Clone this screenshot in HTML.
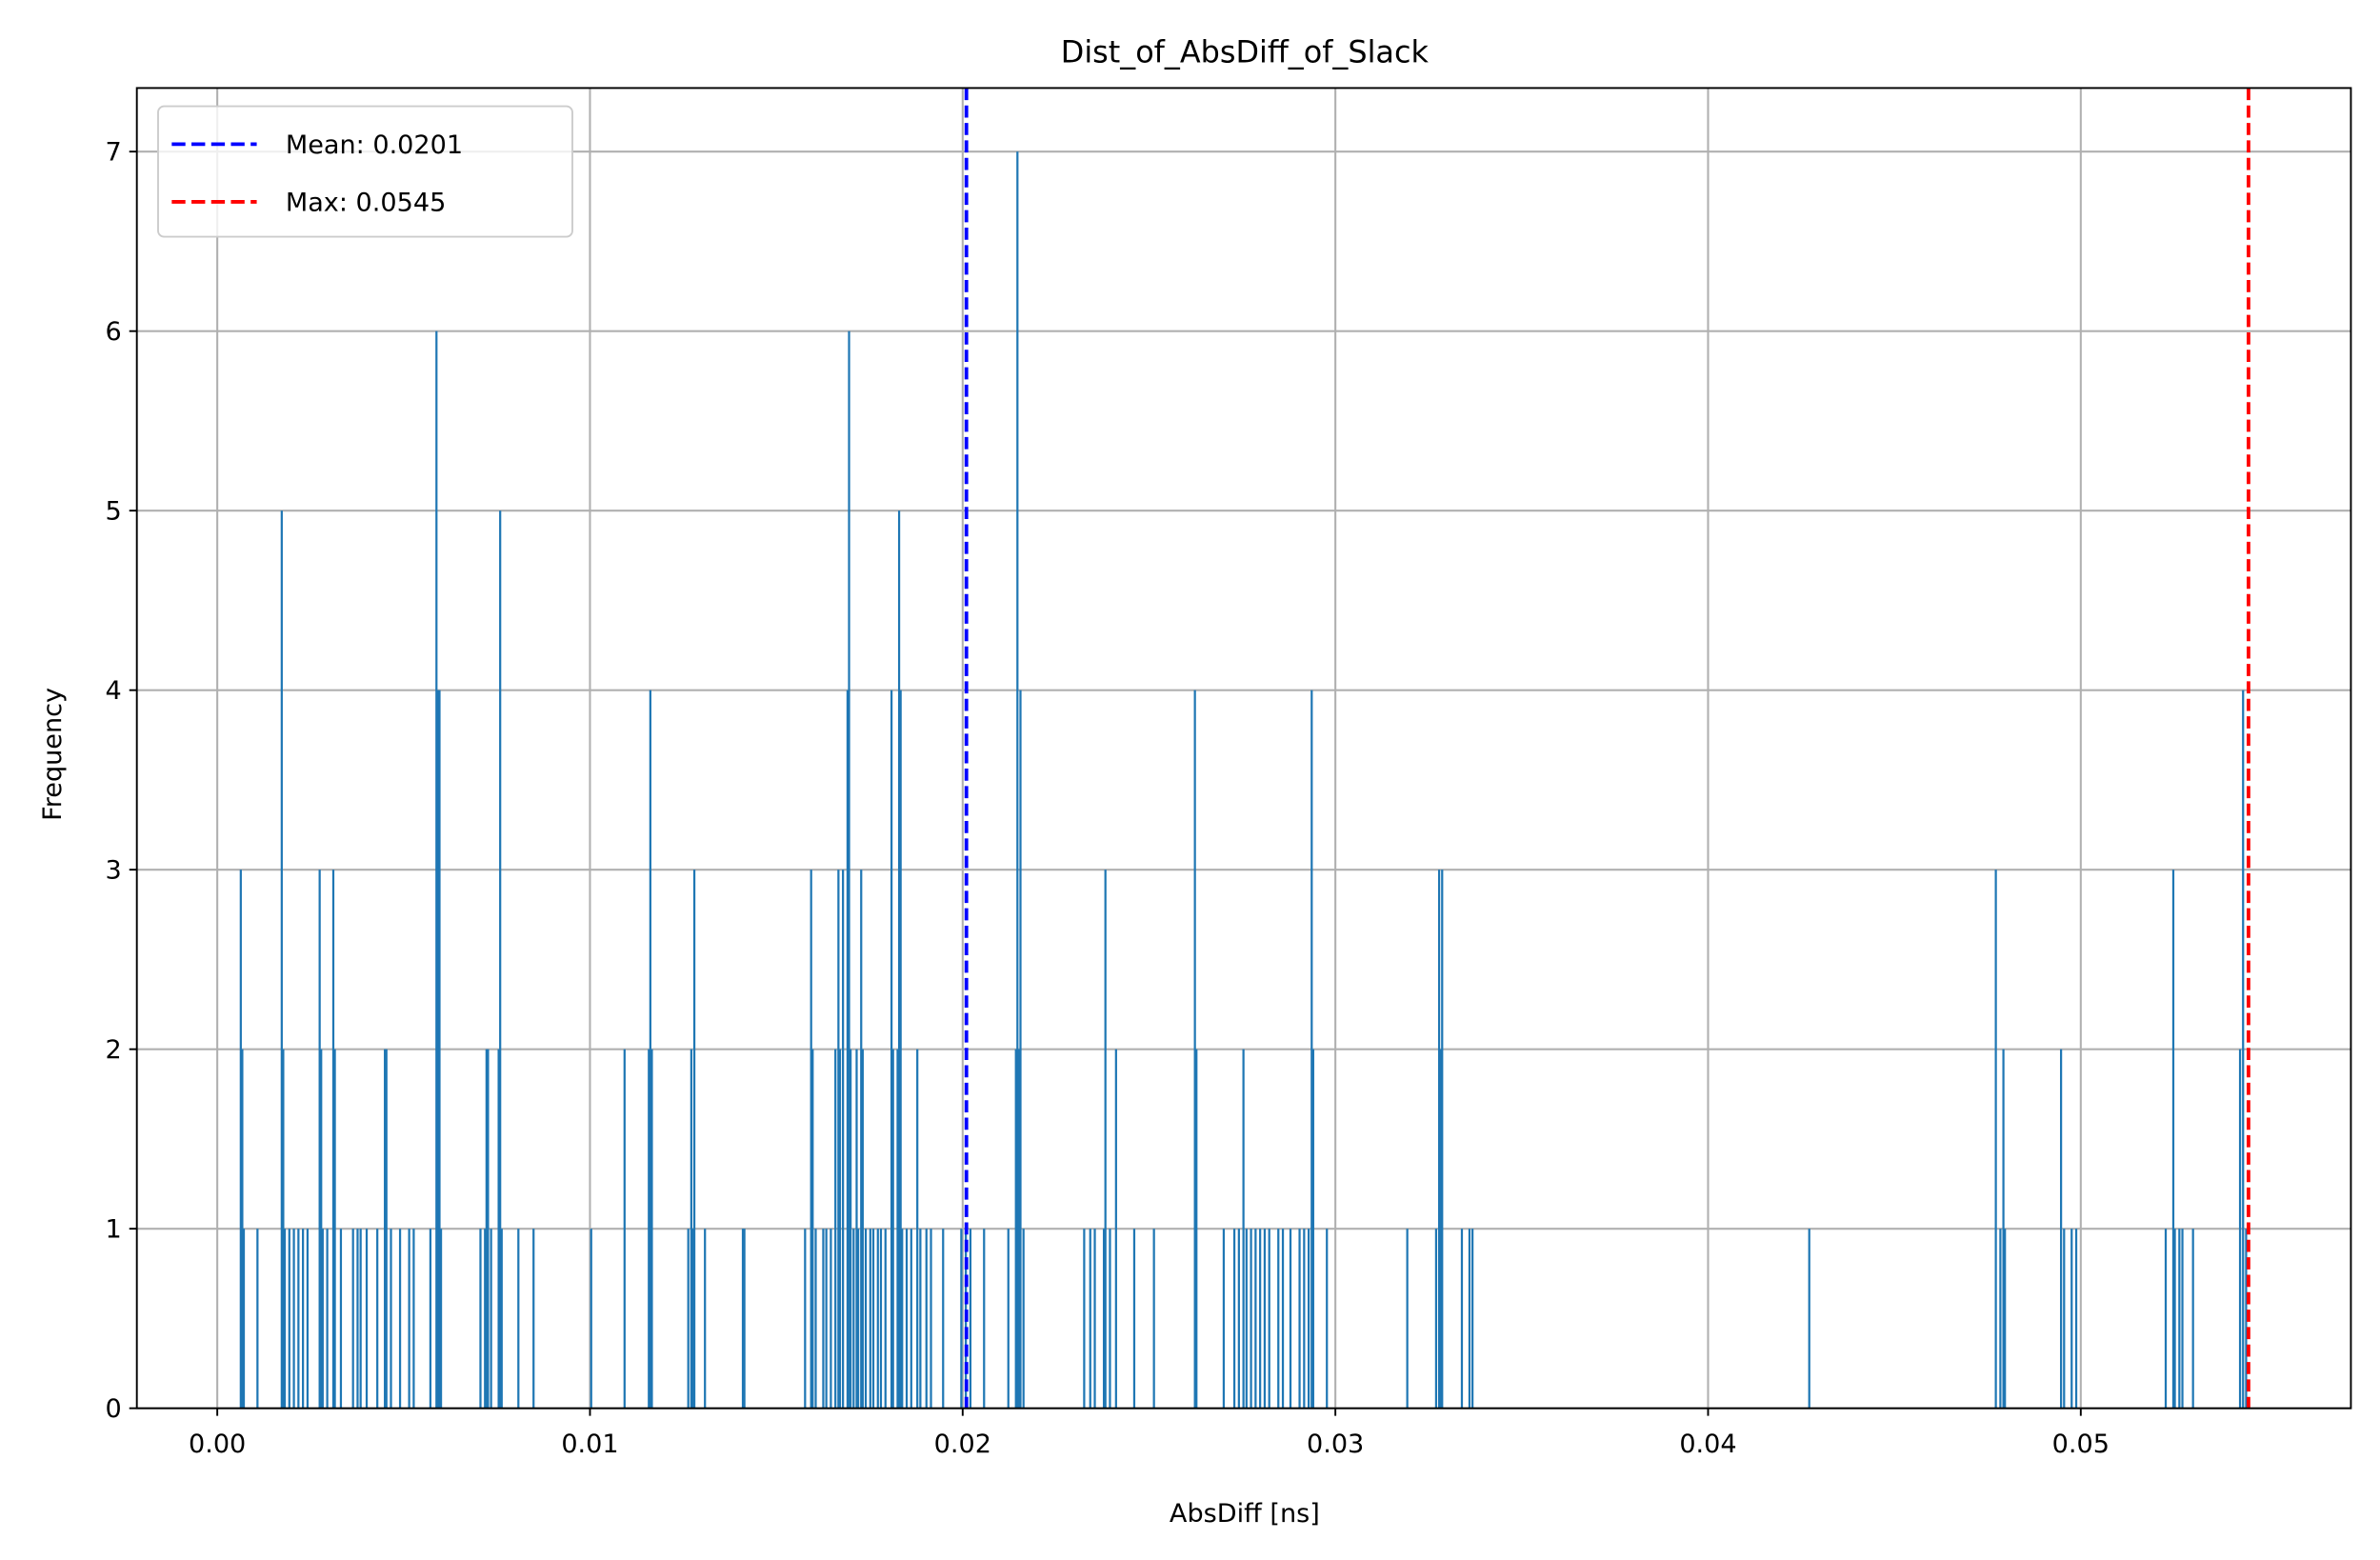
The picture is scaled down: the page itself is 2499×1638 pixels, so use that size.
<!DOCTYPE html>
<html><head><meta charset="utf-8"><style>
html,body{margin:0;padding:0;background:#fff;}
svg{display:block;font-family:"DejaVu Sans","Liberation Sans",sans-serif;}
</style></head><body>
<svg id="chart" width="2499" height="1638" viewBox="0 0 1568 1028" xmlns="http://www.w3.org/2000/svg">
<rect x="0" y="0" width="1568" height="1028" fill="#fff"/>
<g id="grid"></g>
<g id="bars"></g>
<g id="refs"></g>
<rect x="90" y="58" width="1459" height="870" fill="none" stroke="#000" stroke-width="1.2"/>
<g id="axes"></g>
<text x="820" y="41" text-anchor="middle" font-size="20">Dist_of_AbsDiff_of_Slack</text>
<text x="820" y="1003" text-anchor="middle" font-size="17">AbsDiff [ns]</text>
<text transform="translate(40,497) rotate(-90)" text-anchor="middle" font-size="17">Frequency</text>
<g>
<rect x="104" y="70" width="273" height="86" rx="4" fill="#fff" fill-opacity="0.8" stroke="#ccc" stroke-width="1.2"/>
<line x1="113" y1="95" x2="169" y2="95" stroke="#0000ff" stroke-width="2.4" stroke-dasharray="9,4"/>
<text x="188" y="101" font-size="17">Mean: 0.0201</text>
<line x1="113" y1="133" x2="169" y2="133" stroke="#ff0000" stroke-width="2.4" stroke-dasharray="9,4"/>
<text x="188" y="139" font-size="17">Max: 0.0545</text>
</g>
</svg>
<script>
// histogram bins: index (bin width binWidth ns) and count
const binWidth = 0.0000407;
const binIndex = [
15,16,17,26,42,43,44,47,50,53,56,59,
67,68,69,72,76,77,81,89,92,94,98,105,
110,111,114,120,126,129,140,144,145,146,147,
173,176,177,178,180,185,186,187,198,208,246,
268,284,285,286,310,312,313,314,321,346,347,
387,391,392,394,399,401,404,407,409,410,412,
415,416,417,419,421,422,424,425,427,430,432,435,437,440,
444,445,448,449,450,451,454,457,461,463,467,470,
478,490,493,496,505,521,526,527,528,529,531,
571,575,578,584,585,588,592,604,617,644,645,
663,670,673,676,678,681,684,687,690,693,699,702,707,713,716,719,721,722,731,
784,803,805,806,807,820,825,827,
1049,1172,1175,1177,1178,1215,1217,1222,1225,
1284,1289,1290,1293,1295,1302,1333,1335,1337];
const binCount = [
3,2,1,1,5,2,1,1,1,1,1,1,
3,2,1,1,3,2,1,1,1,1,1,1,
2,2,1,1,1,1,1,6,4,4,1,
1,1,2,2,1,2,5,1,1,1,1,
2,2,4,2,1,2,1,3,1,1,1,
1,3,2,1,1,1,1,2,3,2,3,
4,6,2,1,2,1,3,2,1,1,1,1,1,1,
4,2,2,5,4,1,1,1,2,1,1,1,
1,1,1,1,1,1,2,7,2,4,1,
1,1,1,1,3,1,2,1,1,4,2,
1,1,1,2,1,1,1,1,1,1,1,1,1,1,1,1,4,2,1,
1,1,3,2,3,1,1,1,
1,3,1,2,1,2,1,1,1,
1,3,1,1,1,1,2,4,1];
const xTicks = [0,0.01,0.02,0.03,0.04,0.05];
const xTickLabels = ["0.00","0.01","0.02","0.03","0.04","0.05"];
const yTicks = [0,1,2,3,4,5,6,7];
const meanValue = [0.0201];
const maxValue = [0.0545];

const NS='http://www.w3.org/2000/svg';
const X0=90,X1=1549,Y0=58,Y1=928;
function xs(v){return 143+v*24560;}
function ys(v){return 928-v*118.3;}
function mk(tag,attrs,parent){const e=document.createElementNS(NS,tag);for(const k in attrs)e.setAttribute(k,attrs[k]);parent.appendChild(e);return e;}
const grid=document.getElementById('grid'),bars=document.getElementById('bars'),axes=document.getElementById('axes'),refs=document.getElementById('refs');
xTicks.forEach((t,i)=>{
  const x=xs(t);
  const g=mk('line',{x1:x,x2:x,y1:Y0,y2:Y1,stroke:'#b0b0b0','stroke-width':1.3},grid);
  
  
  const tk=mk('line',{x1:x,x2:x,y1:Y1,y2:Y1+5,stroke:'#000','stroke-width':1.2},axes);
  
  
  const tx=mk('text',{x:x,y:Y1+29,'text-anchor':'middle','font-size':17},axes);
  tx.textContent=xTickLabels[i];
  
  
});
yTicks.forEach(t=>{
  const y=ys(t);
  const g=mk('line',{x1:X0,x2:X1,y1:y,y2:y,stroke:'#b0b0b0','stroke-width':1.3},grid);
  
  
  const tk=mk('line',{x1:X0-5,x2:X0,y1:y,y2:y,stroke:'#000','stroke-width':1.2},axes);
  
  
  const tx=mk('text',{x:X0-10,y:y+6,'text-anchor':'end','font-size':17},axes);
  tx.textContent=String(t);
  
  
});
binIndex.forEach((b,i)=>{
  const xl=xs(b*binWidth),xr=xs((b+1)*binWidth);
  const r=mk('rect',{x:xl-0.2,y:ys(binCount[i]),width:Math.max(xr-xl,1.4),height:ys(0)-ys(binCount[i]),fill:'#1f77b4'},bars);
  
  
});
const ml=mk('line',{x1:xs(meanValue[0]),x2:xs(meanValue[0]),y1:Y0,y2:Y1,stroke:'#0000ff','stroke-width':2.4,'stroke-dasharray':'8,3.5'},refs);


const xl2=mk('line',{x1:xs(maxValue[0]),x2:xs(maxValue[0]),y1:Y0,y2:Y1,stroke:'#ff0000','stroke-width':2.4,'stroke-dasharray':'8,3.5'},refs);


</script>
</body></html>
